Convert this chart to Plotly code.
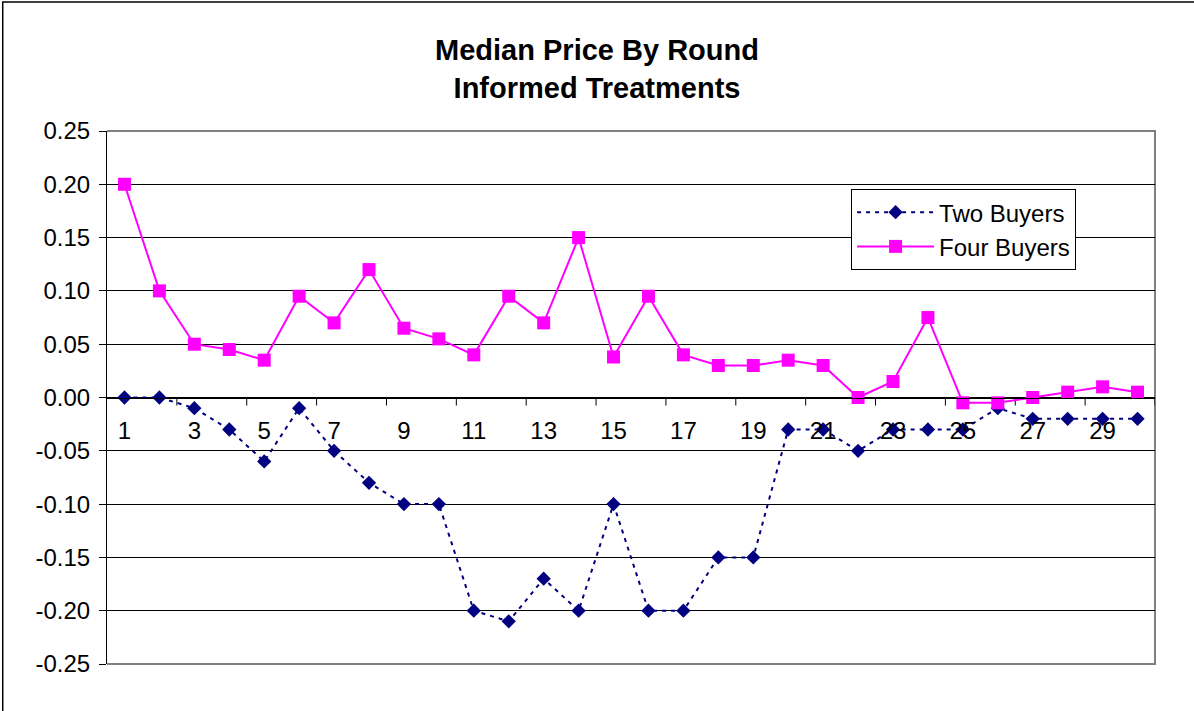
import plotly.graph_objects as go

# ── Data ──────────────────────────────────────────────────────────────────────
rounds = list(range(1, 31))
two_buyers = [0.00, 0.00, -0.01, -0.03, -0.06, -0.01, -0.05, -0.08, -0.10, -0.10,
              -0.20, -0.21, -0.17, -0.20, -0.10, -0.20, -0.20, -0.15, -0.15, -0.03,
              -0.03, -0.05, -0.03, -0.03, -0.03, -0.01, -0.02, -0.02, -0.02, -0.02]
four_buyers = [0.20, 0.10, 0.05, 0.045, 0.035, 0.095, 0.07, 0.12, 0.065, 0.055,
               0.04, 0.095, 0.07, 0.15, 0.038, 0.095, 0.04, 0.03, 0.03, 0.035,
               0.03, 0.00, 0.015, 0.075, -0.005, -0.005, 0.00, 0.005, 0.01, 0.005]
x_labels = [str(r) for r in rounds if r % 2 == 1]
x_label_pos = [r for r in rounds if r % 2 == 1]
x_tick_pos = [r + 0.5 for r in rounds if r % 2 == 0]
y_ticks = [-0.25, -0.20, -0.15, -0.10, -0.05, 0.00, 0.05, 0.10, 0.15, 0.20, 0.25]
y_labels = [f"{v:.2f}" for v in y_ticks]   # plain hyphen minus, like Excel

# ── Style ─────────────────────────────────────────────────────────────────────
NAVY = "#000080"
MAGENTA = "#FF00FF"
FONT = "Arial, 'Liberation Sans', sans-serif"

fig = go.Figure()

fig.add_trace(go.Scatter(
    x=rounds, y=two_buyers,
    name="Two Buyers",
    mode="lines+markers",
    line=dict(color=NAVY, width=2, dash="4px,5px"),
    marker=dict(symbol="diamond", size=11, color=NAVY),
))

fig.add_trace(go.Scatter(
    x=rounds, y=four_buyers,
    name="Four Buyers",
    mode="lines+markers",
    line=dict(color=MAGENTA, width=2),
    marker=dict(symbol="square", size=13, color=MAGENTA),
))

# category tick marks hanging below the zero axis line
for xt in x_tick_pos:
    fig.add_shape(type="line", xref="x", yref="y",
                  ysizemode="pixel", yanchor=0, y0=0, y1=-8,
                  x0=xt, x1=xt, line=dict(color="black", width=1),
                  layer="between")

# grey plot-area border (top, right, bottom)
fig.add_shape(type="path", xref="paper", yref="paper",
              path="M 0,1 L 1,1 L 1,0 L 0,0",
              line=dict(color="#808080", width=2), layer="between")

# outer chart border
fig.add_shape(type="rect", xref="paper", yref="paper",
              x0=-0.0995, y0=-0.3, x1=1.2, y1=1.242,
              line=dict(color="black", width=1.5), layer="above")

fig.update_layout(
    width=1194, height=711,
    paper_bgcolor="white",
    plot_bgcolor="white",
    margin=dict(l=107, r=39, t=131, b=47),
    font=dict(family=FONT, size=24, color="black"),
    title=dict(
        text="<b>Median Price By Round<br>Informed Treatments</b>",
        x=0.5, xref="container", xanchor="center",
        y=0.915, yref="container", yanchor="middle",
        font=dict(family=FONT, size=29, color="black"),
    ),
    legend=dict(
        x=0.71, y=0.891, xanchor="left", yanchor="top",
        bgcolor="white", bordercolor="black", borderwidth=1,
        font=dict(family=FONT, size=24, color="black"),
        itemwidth=77,
    ),
    xaxis=dict(
        range=[0.5, 30.5],
        tickvals=x_label_pos, ticktext=x_labels,
        ticks="", showgrid=False, zeroline=False,
        showline=True, linecolor="black", linewidth=1,
        anchor="free", position=0.5,
        ticklabelstandoff=12,
    ),
    yaxis=dict(
        range=[-0.25, 0.25],
        tickvals=y_ticks, ticktext=y_labels,
        showgrid=True, gridcolor="black", gridwidth=1,
        zeroline=False,
        showline=True, linecolor="black", linewidth=1,
        ticks="outside", ticklen=7, tickcolor="black",
        ticklabelstandoff=4,
    ),
)

fig.write_html("out.html", config={"displayModeBar": False},
               post_script="document.body.style.margin='0';")
